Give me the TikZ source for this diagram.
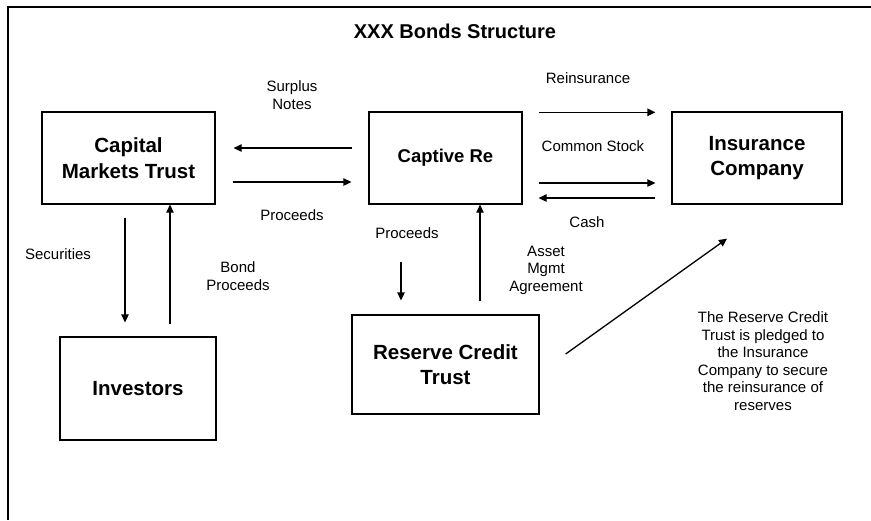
\documentclass[tikz,border=0pt]{standalone}
\usepackage{fontspec}
\setmainfont{Liberation Sans}
\usetikzlibrary{arrows.meta}
\begin{document}
\begin{tikzpicture}[x=1pt, y=-1pt, line width=1.3pt, >={Triangle[length=8pt,width=7.5pt]},
  main/.style = {draw, rectangle, inner sep=0pt, align=center, font=\fontsize{20.5}{25.5}\selectfont\bfseries},
  lbl/.style = {align=center, inner sep=0pt, font=\fontsize{15}{17.5}\selectfont}]
  \useasboundingbox (0,0) rectangle (871,520);
  \draw (871,7) -- (8,7) -- (8,520);
  \node (title) at (455,31) {\fontsize{20}{23}\selectfont\bfseries XXX Bonds Structure};
  \node[main,minimum width=173pt,minimum height=92pt] (cmt) at (128.5,158) {Capital\\Markets Trust};
  \node[main,minimum width=153pt,minimum height=92pt,font=\fontsize{18.5}{22}\selectfont\bfseries] (cre) at (445.5,158) {Captive Re};
  \node[main,minimum width=170pt,minimum height=92pt] (ins) at (757,158) {Insurance\\Company};
  \node[main,minimum width=156pt,minimum height=103pt] (inv) at (138,388.5) {Investors};
  \node[main,minimum width=187pt,minimum height=99pt] (rct) at (445.5,364.5) {Reserve Credit\\Trust};
  \node[lbl] (surplus) at (292,95) {Surplus\\Notes};
  \node[lbl] (proc1) at (292,215) {Proceeds};
  \node[lbl] (reins) at (588,78) {Reinsurance};
  \node[lbl] (stock) at (593,146) {Common Stock};
  \node[lbl] (cash) at (587,222) {Cash};
  \node[lbl] (secur) at (58,254) {Securities};
  \node[lbl] (bond) at (238,276) {Bond\\Proceeds};
  \node[lbl] (proc2) at (407,233) {Proceeds};
  \node[lbl] (asset) at (546,270) {Asset\\Mgmt\\Agreement};
  \node[lbl] (note) at (763,361) {The Reserve Credit\\Trust is pledged to\\the Insurance\\Company to secure\\the reinsurance of\\reserves};
  \draw[->, shorten <=16pt, shorten >=18pt] ([yshift=10pt]cre.west) -- ([yshift=10pt]cmt.east);
  \draw[->, shorten <=17pt, shorten >=17pt] ([yshift=-24pt]cmt.east) -- ([yshift=-24pt]cre.west);
  \draw[->, shorten <=16pt, shorten >=16pt] ([yshift=-1pt]cre.north east) -- ([yshift=-1pt]ins.north west);
  \draw[->, shorten <=16pt, shorten >=16pt] ([yshift=-25pt]cre.east) -- ([yshift=-25pt]ins.west);
  \draw[->, shorten <=16pt, shorten >=16pt] ([yshift=-40pt]ins.west) -- ([yshift=-40pt]cre.east);
  \draw[->, shorten <=13pt, shorten >=14pt] ([xshift=-3.5pt]cmt.south) -- ([xshift=-3.5pt]cmt.south |- inv.north);
  \draw[->, shorten <=12pt] ([xshift=41.5pt]cmt.south |- inv.north) -- ([xshift=41.5pt]cmt.south);
  \draw[->, shorten <=57pt, shorten >=14pt] ([xshift=-44.5pt]cre.south) -- ([xshift=-44.5pt]cre.south |- rct.north);
  \draw[->, shorten <=13pt] ([xshift=34.5pt]cre.south |- rct.north) -- ([xshift=34.5pt]cre.south);
  \draw[->] ([xshift=26pt,yshift=10.5pt]rct.east) -- ([xshift=-30pt,yshift=-34pt]ins.south);
\end{tikzpicture}
\end{document}
